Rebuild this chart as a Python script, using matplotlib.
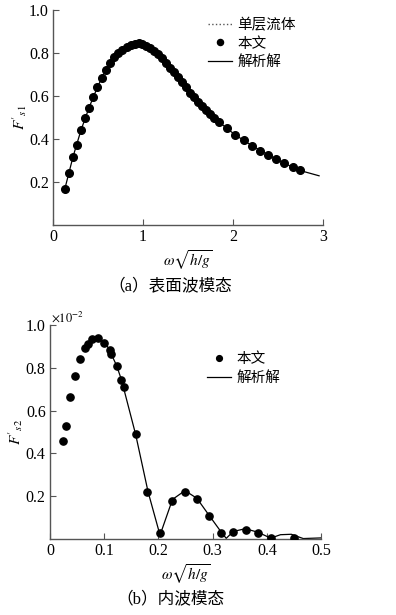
import matplotlib.pyplot as plt
from matplotlib.ticker import FixedLocator

plt.rcParams['font.family'] = ['Liberation Serif', 'Noto Sans CJK SC']
plt.rcParams['mathtext.fontset'] = 'stix'

#%%
# (a) surface-wave mode: computed points and analytic curve
a_dot_x = [0.13, 0.178, 0.222, 0.267, 0.311, 0.356, 0.40, 0.448, 0.492, 0.54,
           0.585, 0.63, 0.678, 0.726, 0.77, 0.818, 0.863, 0.907, 0.952, 0.993,
           1.037, 1.081, 1.126, 1.17, 1.215, 1.26, 1.304, 1.341, 1.385, 1.43,
           1.474, 1.519, 1.563, 1.607, 1.652, 1.696, 1.74, 1.789, 1.84,
           1.937, 2.02, 2.12, 2.21, 2.30, 2.39, 2.48, 2.57, 2.66, 2.74]
a_dot_y = [0.167, 0.24, 0.318, 0.374, 0.442, 0.496, 0.546, 0.597, 0.64, 0.685,
           0.721, 0.752, 0.78, 0.799, 0.814, 0.826, 0.836, 0.842, 0.845, 0.842,
           0.834, 0.825, 0.811, 0.794, 0.775, 0.755, 0.732, 0.712, 0.687, 0.665,
           0.64, 0.615, 0.594, 0.574, 0.553, 0.535, 0.516, 0.496, 0.48,
           0.45, 0.42, 0.395, 0.369, 0.344, 0.326, 0.305, 0.287, 0.271, 0.254]
a_line_x = [0.13, 0.222, 0.311, 0.40, 0.492, 0.585, 0.678, 0.77, 0.863, 0.952,
            1.037, 1.126, 1.215, 1.304, 1.43, 1.563, 1.696, 1.84, 2.02, 2.21,
            2.39, 2.57, 2.74, 2.955]
a_line_y = [0.167, 0.318, 0.442, 0.546, 0.64, 0.721, 0.78, 0.814, 0.836, 0.845,
            0.834, 0.811, 0.775, 0.732, 0.665, 0.594, 0.535, 0.48, 0.42, 0.369,
            0.326, 0.287, 0.254, 0.229]

# (b) internal-wave mode (x 1e-2)
b_dot_x = [0.024, 0.0295, 0.037, 0.0467, 0.0547, 0.0646, 0.0695, 0.0769, 0.0892,
           0.100, 0.110, 0.1125, 0.123, 0.1316, 0.136, 0.158, 0.1795, 0.203,
           0.2257, 0.249, 0.2706, 0.2934, 0.315, 0.338, 0.361, 0.383, 0.407, 0.450]
b_dot_y = [0.458, 0.528, 0.662, 0.763, 0.84, 0.894, 0.91, 0.935, 0.938,
           0.914, 0.883, 0.864, 0.81, 0.743, 0.71, 0.489, 0.221, 0.027,
           0.178, 0.221, 0.187, 0.109, 0.027, 0.031, 0.042, 0.027, 0.003, 0.003]
b_line_x = [0.1046, 0.112, 0.123, 0.132, 0.158, 0.181, 0.203, 0.226, 0.249,
            0.271, 0.293, 0.315, 0.325, 0.338, 0.36, 0.383, 0.407, 0.425,
            0.445, 0.467, 0.5]
b_line_y = [0.907, 0.87, 0.81, 0.743, 0.489, 0.22, 0.018, 0.185, 0.226,
            0.19, 0.112, 0.035, 0.003, 0.035, 0.048, 0.032, 0.004, 0.02,
            0.022, 0.002, 0.005]

fig = plt.figure(figsize=(3.96, 6.15), dpi=100)
ax1 = fig.add_axes([0.134, 0.634, 0.682, 0.350])
ax2 = fig.add_axes([0.126, 0.1236, 0.685, 0.348])


def style(ax, xmax, xticks, xlabels):
    for s in ['top', 'right']:
        ax.spines[s].set_visible(False)
    for s in ['left', 'bottom']:
        ax.spines[s].set_color('#555555')
        ax.spines[s].set_linewidth(1.0)
    ax.set_xlim(0, xmax)
    ax.set_ylim(0, 1.0)
    ax.xaxis.set_major_locator(FixedLocator(xticks))
    ax.set_xticklabels(xlabels)
    ax.yaxis.set_major_locator(FixedLocator([0.2, 0.4, 0.6, 0.8, 1.0]))
    ax.set_yticklabels(['0.2', '0.4', '0.6', '0.8', '1.0'])
    ax.tick_params(direction='in', length=4, width=0.8, color='#555555',
                   labelsize=11.5, pad=3)
    ax.set_xlabel(r'$\omega\sqrt{h/g}$', fontsize=11, labelpad=2)


leg_kw = dict(loc='upper left', frameon=False, fontsize=10.5, handlelength=1.6,
              handletextpad=0.4, labelspacing=0.3, markerscale=0.8,
              borderpad=0, borderaxespad=0)

#%%
# Top panel
ax1.plot([], [], ':', color='#555555', lw=1.0, label='单层流体')
ax1.plot(a_dot_x, a_dot_y, 'o', color='black', ms=5.5, label='本文', zorder=3)
ax1.plot(a_line_x, a_line_y, '-', color='black', lw=0.9, label='解析解')
style(ax1, 3, [0, 1, 2, 3], ['0', '1', '2', '3'])
ax1.set_ylabel(r"$F'_{s1}$", fontsize=11)
ax1.yaxis.set_label_coords(-0.09, 0.5)
ax1.legend(bbox_to_anchor=(0.575, 0.96), **leg_kw)
fig.text(0.43, 0.533, '（a）表面波模态', ha='center', va='center', fontsize=12)

#%%
# Bottom panel
ax2.plot(b_dot_x, b_dot_y, 'o', color='black', ms=5.2, label='本文', zorder=3)
ax2.plot(b_line_x, b_line_y, '-', color='black', lw=0.9, label='解析解')
style(ax2, 0.5, [0, 0.1, 0.2, 0.3, 0.4, 0.5],
      ['0', '0.1', '0.2', '0.3', '0.4', '0.5'])
ax2.set_ylabel(r"$F'_{s2}$", fontsize=11)
ax2.yaxis.set_label_coords(-0.09, 0.5)
ax2.text(0.005, 1.0, r'$\times10^{-2}$', transform=ax2.transAxes,
         fontsize=9, va='bottom', ha='left')
ax2.legend(bbox_to_anchor=(0.58, 0.87), **leg_kw)
fig.text(0.43, 0.025, '（b）内波模态', ha='center', va='center', fontsize=12)

fig.savefig('out.png', dpi=100)
